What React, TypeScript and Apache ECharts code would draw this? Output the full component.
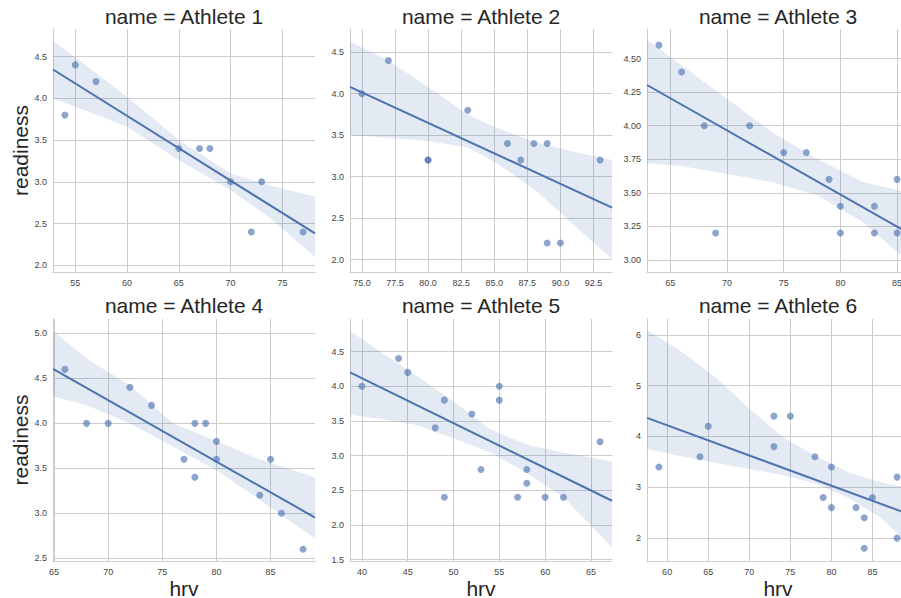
import React, { useEffect, useRef } from 'react';
import * as echarts from 'echarts';

const FONT = '"Liberation Sans", Arial, sans-serif';
const BLUE = '#4C72B0';

const titles = ['name = Athlete 1', 'name = Athlete 2', 'name = Athlete 3', 'name = Athlete 4', 'name = Athlete 5', 'name = Athlete 6'];

// hrv / readiness per athlete
const a1Hrv = [54, 55, 57, 65, 67, 68, 70, 73, 72, 77];
const a1Ready = [3.8, 4.4, 4.2, 3.4, 3.4, 3.4, 3.0, 3.0, 2.4, 2.4];
const a2Hrv = [75, 77, 80, 80, 83, 86, 87, 88, 89, 89, 90, 93];
const a2Ready = [4.0, 4.4, 3.2, 3.2, 3.8, 3.4, 3.2, 3.4, 3.4, 2.2, 2.2, 3.2];
const a3Hrv = [64, 66, 68, 69, 72, 75, 77, 79, 80, 80, 83, 83, 85, 85];
const a3Ready = [4.6, 4.4, 4.0, 3.2, 4.0, 3.8, 3.8, 3.6, 3.4, 3.2, 3.4, 3.2, 3.6, 3.2];
const a4Hrv = [66, 68, 70, 72, 74, 77, 78, 78, 79, 80, 80, 84, 85, 86, 88];
const a4Ready = [4.6, 4.0, 4.0, 4.4, 4.2, 3.6, 4.0, 3.4, 4.0, 3.8, 3.6, 3.2, 3.6, 3.0, 2.6];
const a5Hrv = [40, 44, 45, 48, 49, 49, 52, 53, 55, 55, 57, 58, 58, 60, 62, 66];
const a5Ready = [4.0, 4.4, 4.2, 3.4, 3.8, 2.4, 3.6, 2.8, 4.0, 3.8, 2.4, 2.8, 2.6, 2.4, 2.4, 3.2];
const a6Hrv = [59, 64, 65, 73, 73, 75, 78, 79, 80, 80, 83, 84, 84, 85, 88, 88];
const a6Ready = [3.4, 3.6, 4.2, 4.4, 3.8, 4.4, 3.6, 2.8, 3.4, 2.6, 2.6, 2.4, 1.8, 2.8, 3.2, 2.0];

// confidence band: x, lower, upper
const band1X = [52.85, 56, 60, 65, 70, 74, 78.15];
const band1Lo = [4.0, 3.85, 3.66, 3.26, 2.9, 2.55, 2.1];
const band1Hi = [4.69, 4.4, 4.02, 3.5, 3.1, 2.95, 2.82];
const band2X = [74.1, 77, 80, 83, 85, 88, 91, 93.9];
const band2Lo = [3.5, 3.47, 3.43, 3.35, 3.18, 2.85, 2.42, 2.01];
const band2Hi = [4.63, 4.4, 4.08, 3.75, 3.6, 3.42, 3.3, 3.2];
const band3X = [62.95, 66, 70, 74, 78, 82, 86.05];
const band3Lo = [3.72, 3.7, 3.64, 3.58, 3.48, 3.28, 2.98];
const band3Hi = [4.64, 4.45, 4.2, 3.95, 3.75, 3.58, 3.5];
const band4X = [64.9, 68, 72, 76, 80, 84, 89.1];
const band4Lo = [4.3, 4.2, 4.0, 3.74, 3.48, 3.15, 2.72];
const band4Hi = [5.03, 4.72, 4.42, 4.0, 3.8, 3.6, 3.4];
const band5X = [38.7, 42, 46, 50, 54, 58, 62, 67.3];
const band5Lo = [3.59, 3.53, 3.44, 3.25, 3.05, 2.75, 2.4, 1.68];
const band5Hi = [4.8, 4.5, 4.15, 3.78, 3.38, 3.16, 3.04, 2.92];
const band6X = [57.55, 62, 66, 70, 74, 78, 82, 86, 89.45];
const band6Lo = [3.76, 3.6, 3.48, 3.36, 3.24, 3.08, 2.8, 2.4, 1.88];
const band6Hi = [6.1, 5.64, 5.15, 4.55, 4.0, 3.62, 3.3, 3.1, 2.98];

// axis limits and tick steps
const xMins = [52.85, 74.1, 62.95, 64.9, 38.7, 57.55];
const xMaxs = [78.15, 93.9, 86.05, 89.1, 67.3, 89.45];
const yMins = [1.92, 1.85, 2.91, 2.47, 1.48, 1.55];
const yMaxs = [4.83, 4.78, 4.72, 5.16, 4.97, 6.31];
const xSteps = [5, 2.5, 5, 5, 5, 5];
const ySteps = [0.5, 0.5, 0.25, 0.5, 0.5, 1];
const xDecimals = [0, 1, 0, 0, 0, 0];
const yDecimals = [1, 1, 2, 1, 1, 0];

const hrvs = [a1Hrv, a2Hrv, a3Hrv, a4Hrv, a5Hrv, a6Hrv];
const readys = [a1Ready, a2Ready, a3Ready, a4Ready, a5Ready, a6Ready];
const bandXs = [band1X, band2X, band3X, band4X, band5X, band6X];
const bandLos = [band1Lo, band2Lo, band3Lo, band4Lo, band5Lo, band6Lo];
const bandHis = [band1Hi, band2Hi, band3Hi, band4Hi, band5Hi, band6Hi];

function fit(xs: number[], ys: number[]) {
  const n = xs.length;
  const mx = xs.reduce((a, b) => a + b, 0) / n;
  const my = ys.reduce((a, b) => a + b, 0) / n;
  let sxy = 0, sxx = 0;
  for (let i = 0; i < n; i++) {
    sxy += (xs[i] - mx) * (ys[i] - my);
    sxx += (xs[i] - mx) * (xs[i] - mx);
  }
  const b = sxy / sxx;
  return { a: my - b * mx, b };
}

function fmt(step: number, dec: number) {
  return (v: number) => {
    const r = v / step;
    if (Math.abs(r - Math.round(r)) > 1e-6) return '';
    return (Math.round(r) * step).toFixed(dec);
  };
}

export default function App() {
  const ref = useRef<HTMLDivElement>(null);
  useEffect(() => {
    const chart = echarts.init(ref.current!, null, { renderer: 'svg' });
    const lefts = [53, 350, 647];
    const tops = [29, 319];
    const heights = [243, 242];
    const W = 262;
    const grids: any[] = [];
    const xAxes: any[] = [];
    const yAxes: any[] = [];
    const series: any[] = [];
    const graphics: any[] = [];
    for (let p = 0; p < 6; p++) {
      const row = Math.floor(p / 3);
      const col = p % 3;
      grids.push({
        left: lefts[col],
        top: tops[row],
        width: W,
        height: heights[row],
        containLabel: false,
        outerBoundsMode: 'none',
      });
      const axisCommon = {
        type: 'value',
        axisLine: { show: true, lineStyle: { color: '#cccccc', width: 1 } },
        axisTick: { show: false },
        splitLine: { show: true, showMinLine: false, showMaxLine: false, lineStyle: { color: '#cccccc', width: 1 } },
      };
      xAxes.push({
        ...axisCommon,
        gridIndex: p,
        min: xMins[p],
        max: xMaxs[p],
        minInterval: xSteps[p],
        maxInterval: xSteps[p],
        axisLabel: { fontSize: 9, color: '#444', fontFamily: FONT, margin: 6, formatter: fmt(xSteps[p], xDecimals[p]) },
        name: row === 1 ? 'hrv' : '',
        nameLocation: 'middle',
        nameGap: 17,
        nameTextStyle: { fontSize: 21, color: '#262626', fontFamily: FONT },
      });
      yAxes.push({
        ...axisCommon,
        gridIndex: p,
        min: yMins[p],
        max: yMaxs[p],
        minInterval: ySteps[p],
        maxInterval: ySteps[p],
        axisLabel: { fontSize: 9, color: '#444', fontFamily: FONT, margin: 6, formatter: fmt(ySteps[p], yDecimals[p]) },
        name: col === 0 ? 'readiness' : '',
        nameLocation: 'middle',
        nameGap: 20,
        nameRotate: 90,
        nameTextStyle: { fontSize: 21, color: '#262626', fontFamily: FONT },
      });
      const bx = bandXs[p], lo = bandLos[p], hi = bandHis[p];
      series.push({
        type: 'custom',
        xAxisIndex: p,
        yAxisIndex: p,
        z: 1,
        silent: true,
        data: [[bx[0], lo[0]]],
        renderItem: (_params: any, api: any) => {
          const pts: number[][] = [];
          for (let i = 0; i < bx.length; i++) pts.push(api.coord([bx[i], hi[i]]));
          for (let i = bx.length - 1; i >= 0; i--) pts.push(api.coord([bx[i], lo[i]]));
          return { type: 'polygon', shape: { points: pts }, style: { fill: 'rgba(76,114,176,0.15)', stroke: 'none' } };
        },
      });
      const xs = hrvs[p], ys = readys[p];
      series.push({
        type: 'scatter',
        xAxisIndex: p,
        yAxisIndex: p,
        z: 2,
        symbolSize: 7,
        itemStyle: { color: 'rgba(76,114,176,0.8)' },
        data: xs.map((x, i) => [x, ys[i]]),
      });
      const { a, b } = fit(xs, ys);
      series.push({
        type: 'line',
        xAxisIndex: p,
        yAxisIndex: p,
        z: 3,
        symbol: 'none',
        lineStyle: { color: BLUE, width: 2 },
        data: [[xMins[p], a + b * xMins[p]], [xMaxs[p], a + b * xMaxs[p]]],
      });
      graphics.push({
        type: 'text',
        x: lefts[col] + W / 2,
        y: row === 0 ? 16.5 : 305.5,
        style: {
          text: titles[p],
          fontSize: 21,
          fontFamily: FONT,
          fill: '#262626',
          align: 'center',
          verticalAlign: 'middle',
          textAlign: 'center',
          textVerticalAlign: 'middle',
        },
      });
    }
    chart.setOption({
      animation: false,
      backgroundColor: '#ffffff',
      grid: grids,
      xAxis: xAxes,
      yAxis: yAxes,
      series,
      graphic: graphics,
    });
    return () => chart.dispose();
  }, []);
  return (
    <div
      ref={ref}
      style={{ position: 'absolute', left: 0, top: 0, width: 901, height: 598, background: '#fff' }}
    />
  );
}
